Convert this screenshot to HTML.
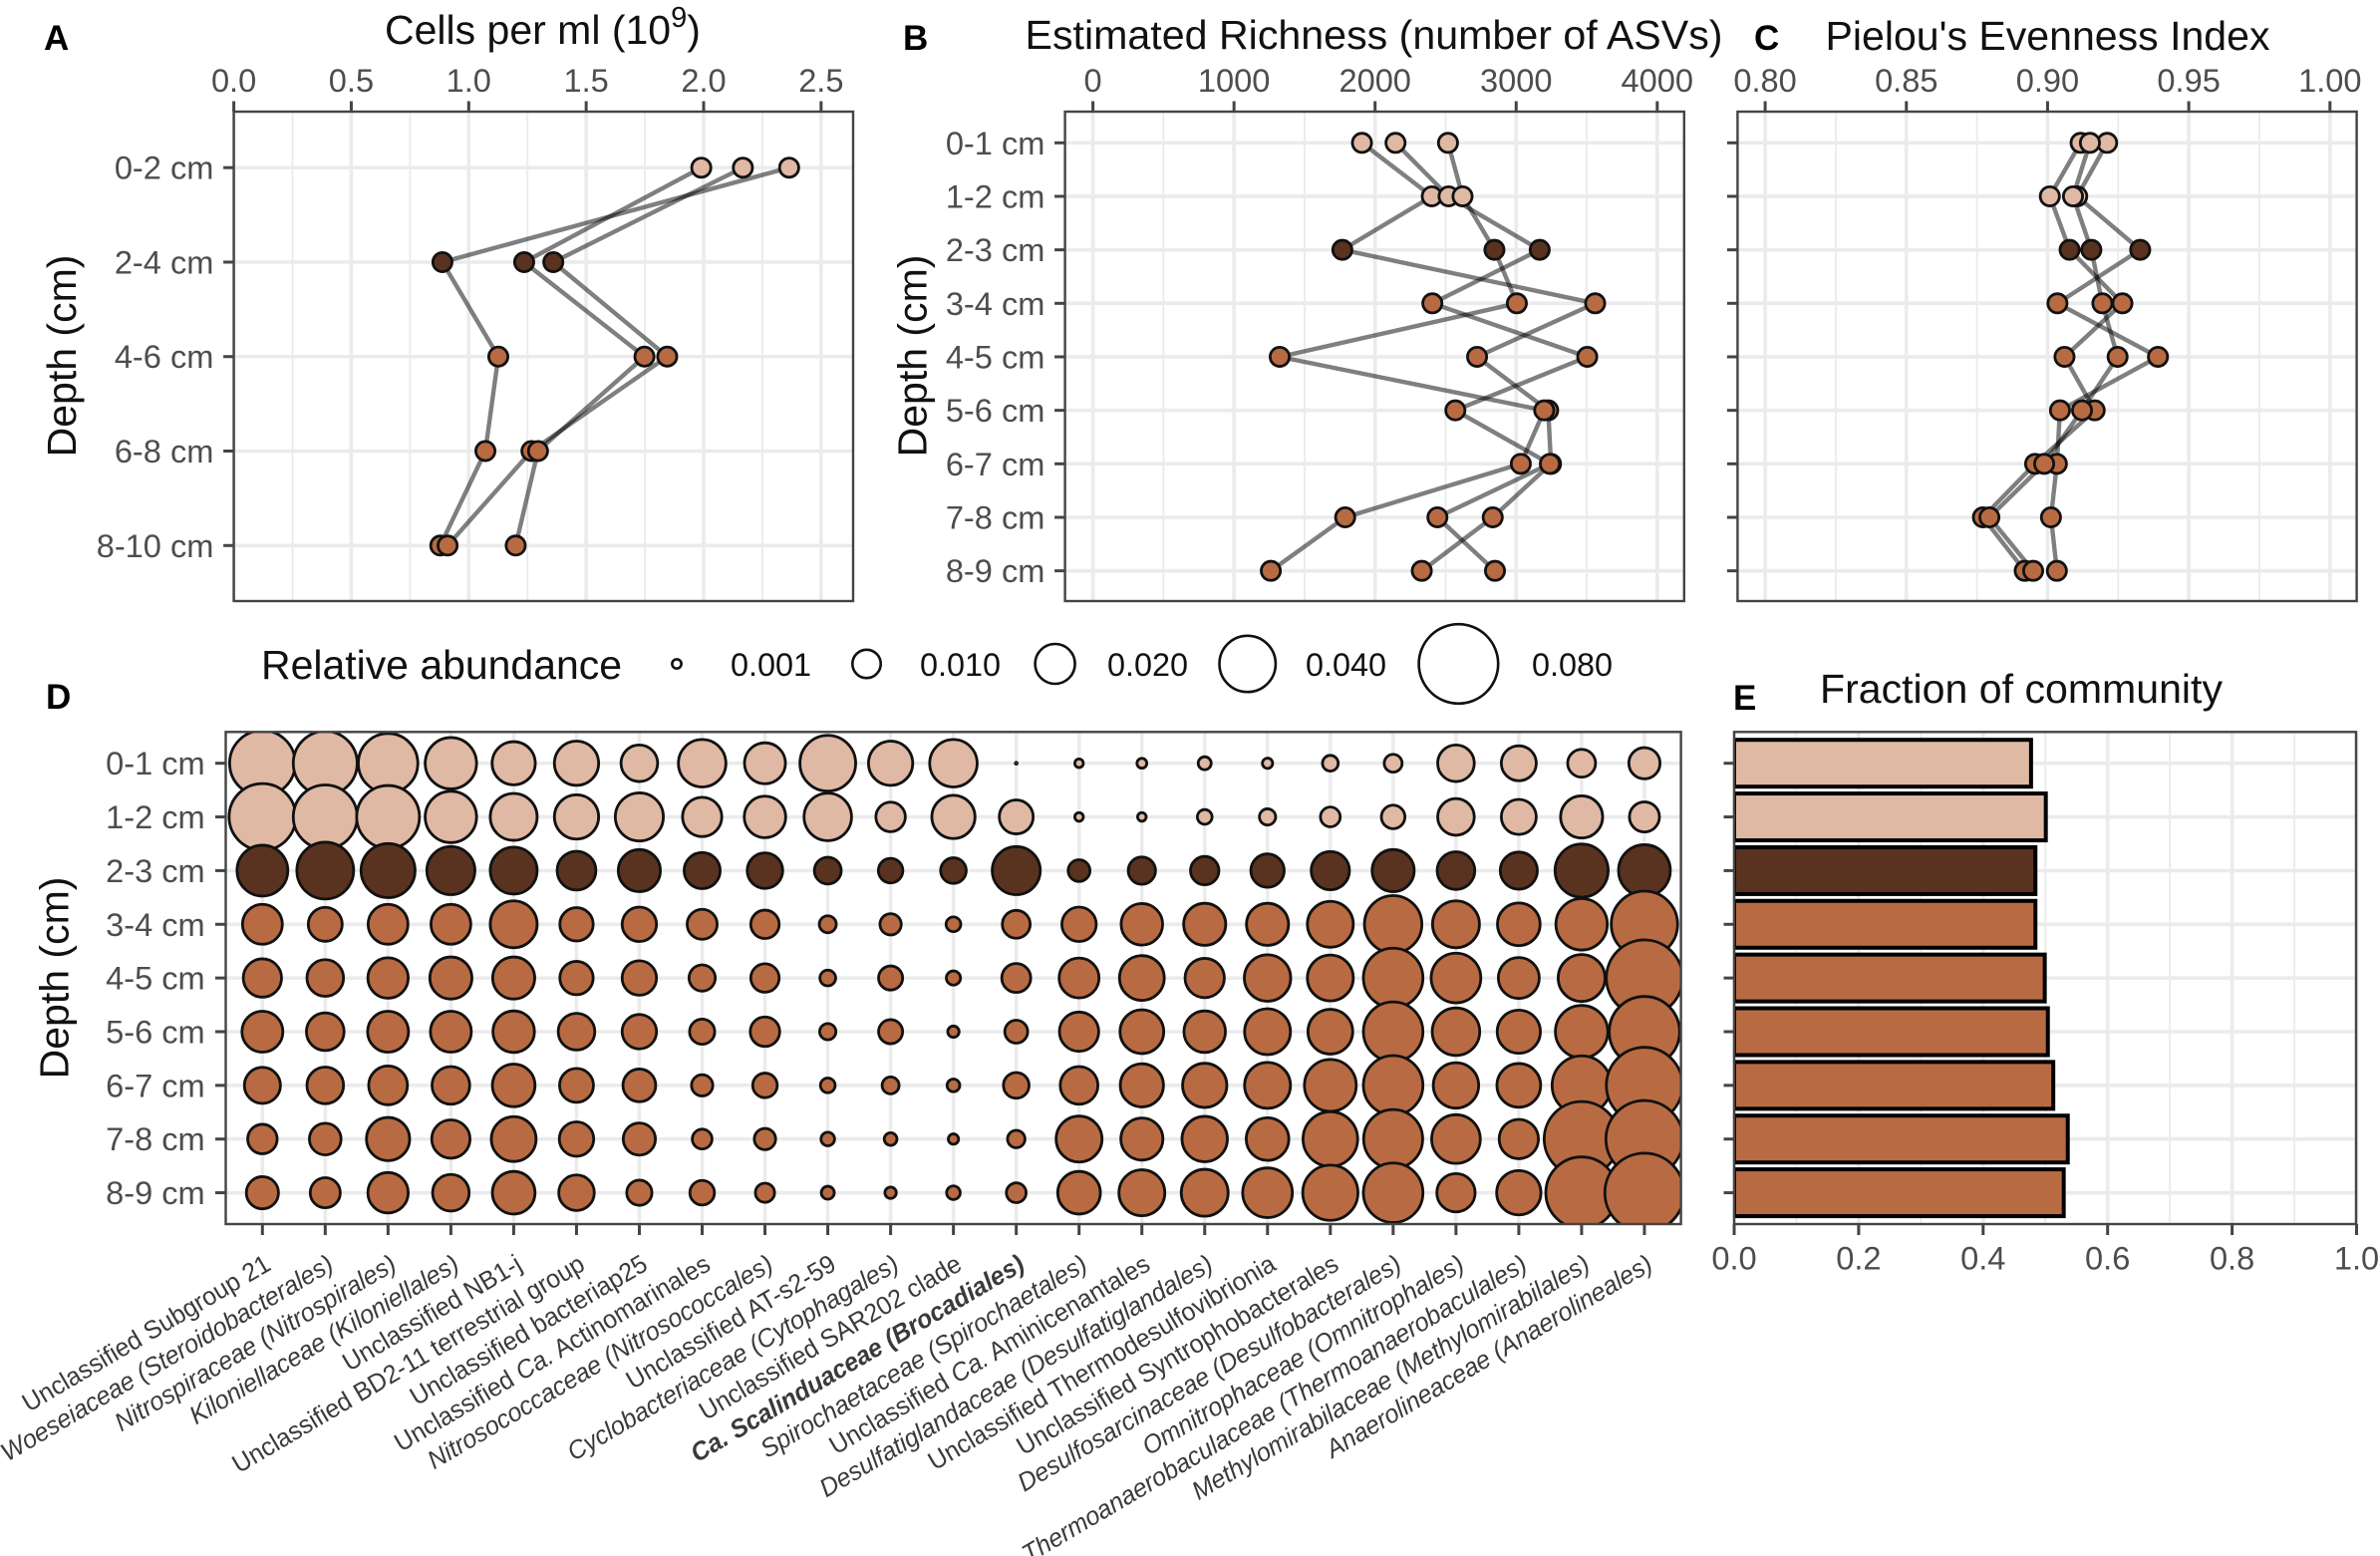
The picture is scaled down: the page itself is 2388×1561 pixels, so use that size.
<!DOCTYPE html>
<html lang="en">
<head>
<meta charset="utf-8">
<title>Depth profiles and relative abundance of sediment community</title>
<style>
html,body{margin:0;padding:0;background:#fff;}
svg{display:block;font-family:"Liberation Sans",Arial,sans-serif;}
</style>
</head>
<body>
<svg id="fig" xmlns="http://www.w3.org/2000/svg" width="2388" height="1561" viewBox="0 0 2388 1561">
<defs>
<clipPath id="clip-d"><rect x="226.5" y="734.3" width="1460.1" height="493.7"/></clipPath>
<clipPath id="clip-e"><rect x="1740" y="734.3" width="624" height="493.7"/></clipPath>
</defs>
<rect width="2388" height="1561" fill="#fff"/>
<g id="layer-a"></g>
<g id="layer-b"></g>
<g id="layer-c"></g>
<g id="layer-legend"></g>
<g id="layer-d"></g>
<g id="layer-e"></g>

<g font-size="35" font-weight="bold" fill="#000">
<text x="44" y="50">A</text>
<text x="906" y="50">B</text>
<text x="1760" y="50">C</text>
<text x="46" y="711">D</text>
<text x="1739" y="712">E</text>
</g>
<g font-size="41" fill="#111">
<text x="386" y="44">Cells per ml (10<tspan font-size="29" dy="-17">9</tspan><tspan dy="17">)</tspan></text>
<text x="1028.5" y="49" textLength="700" lengthAdjust="spacingAndGlyphs">Estimated Richness (number of ASVs)</text>
<text x="1831.5" y="50" textLength="446" lengthAdjust="spacingAndGlyphs">Pielou's Evenness Index</text>
<text x="1826" y="705" textLength="404" lengthAdjust="spacingAndGlyphs">Fraction of community</text>
<text x="262" y="681" textLength="362" lengthAdjust="spacingAndGlyphs">Relative abundance</text>
<text transform="translate(76,357) rotate(-90)" text-anchor="middle">Depth (cm)</text>
<text transform="translate(929.5,357) rotate(-90)" text-anchor="middle">Depth (cm)</text>
<text transform="translate(68.5,981) rotate(-90)" text-anchor="middle">Depth (cm)</text>
</g>
</svg>
<script>
// ---------- Data ----------
const depthsFive = ["0-2 cm","2-4 cm","4-6 cm","6-8 cm","8-10 cm"];
const depthsNine = ["0-1 cm","1-2 cm","2-3 cm","3-4 cm","4-5 cm","5-6 cm","6-7 cm","7-8 cm","8-9 cm"];

const cellsRep1 = [2.364,0.888,1.126,1.071,0.879];
const cellsRep2 = [1.990,1.236,1.748,1.295,1.200];
const cellsRep3 = [2.167,1.360,1.845,1.267,0.910];
const cellsTicks = [0,0.5,1,1.5,2,2.5];
const cellsTickLabels = ["0.0","0.5","1.0","1.5","2.0","2.5"];
const cellsMinorTicks = [0.25,0.75,1.25,1.75,2.25];

const richnessRep1 = [1907,2402,1768,3560,2723,3227,3247,2834,2331];
const richnessRep2 = [2145,2521,3167,2406,3504,2569,3239,2442,2850];
const richnessRep3 = [2517,2620,2846,3005,1324,3199,3033,1788,1261];
const richnessTicks = [0,1000,2000,3000,4000];
const richnessTickLabels = ["0","1000","2000","3000","4000"];
const richnessMinorTicks = [500,1500,2500,3500];

const evennessRep1 = [0.9117,0.9008,0.9078,0.9265,0.9060,0.9167,0.8956,0.8771,0.8919];
const evennessRep2 = [0.9150,0.9090,0.9155,0.9194,0.9248,0.9122,0.8988,0.8794,0.8949];
const evennessRep3 = [0.9211,0.9105,0.9328,0.9035,0.9391,0.9044,0.9033,0.9012,0.9033];
const evennessTicks = [0.80,0.85,0.90,0.95,1.00];
const evennessTickLabels = ["0.80","0.85","0.90","0.95","1.00"];
const evennessMinorTicks = [0.825,0.875,0.925,0.975];

const legendValues = [0.001,0.01,0.02,0.04,0.08];
const legendLabels = ["0.001","0.010","0.020","0.040","0.080"];

// label parts: [text, style] where style n=normal, i=italic, b=bold italic
const taxa = [
  [["Unclassified Subgroup 21","n"]],
  [["Woeseiaceae (Steroidobacterales)","i"]],
  [["Nitrospiraceae (Nitrospirales)","i"]],
  [["Kiloniellaceae (Kiloniellales)","i"]],
  [["Unclassified NB1-j","n"]],
  [["Unclassified BD2-11 terrestrial group","n"]],
  [["Unclassified bacteriap25","n"]],
  [["Unclassified ","n"],["Ca.","i"],[" Actinomarinales","n"]],
  [["Nitrosococcaceae (Nitrosococcales)","i"]],
  [["Unclassified AT-s2-59","n"]],
  [["Cyclobacteriaceae (Cytophagales)","i"]],
  [["Unclassified SAR202 clade","n"]],
  [["Ca. Scalinduaceae (Brocadiales)","b"]],
  [["Spirochaetaceae (Spirochaetales)","i"]],
  [["Unclassified ","n"],["Ca.","i"],[" Aminicenantales","n"]],
  [["Desulfatiglandaceae (Desulfatiglandales)","i"]],
  [["Unclassified Thermodesulfovibrionia","n"]],
  [["Unclassified Syntrophobacterales","n"]],
  [["Desulfosarcinaceae (Desulfobacterales)","i"]],
  [["Omnitrophaceae (Omnitrophales)","i"]],
  [["Thermoanaerobaculaceae (Thermoanaerobaculales)","i"]],
  [["Methylomirabilaceae (Methylomirabilales)","i"]],
  [["Anaerolineaceae (Anaerolineales)","i"]]
];

// relative abundance: one row per taxon, one value per depth
const abundanceByTaxon = [
  [.0549,.0567,.0329,.0202,.0186,.0213,.0165,.0110,.0131],
  [.0521,.0521,.0411,.0146,.0170,.0180,.0170,.0127,.0114],
  [.0452,.0503,.0372,.0202,.0207,.0213,.0191,.0237,.0207],
  [.0336,.0336,.0294,.0202,.0225,.0213,.0180,.0186,.0170],
  [.0237,.0280,.0280,.0280,.0225,.0219,.0231,.0255,.0231],
  [.0249,.0249,.0191,.0141,.0141,.0170,.0146,.0150,.0160],
  [.0170,.0294,.0225,.0150,.0150,.0150,.0136,.0131,.0080],
  [.0287,.0196,.0165,.0114,.0087,.0080,.0057,.0049,.0076],
  [.0213,.0219,.0160,.0102,.0102,.0110,.0076,.0057,.0046],
  [.0396,.0287,.0091,.0036,.0031,.0033,.0027,.0023,.0021],
  [.0249,.0110,.0076,.0057,.0073,.0073,.0036,.0020,.0016],
  [.0287,.0237,.0083,.0027,.0025,.0016,.0020,.0013,.0023],
  [.00002,.0146,.0294,.0098,.0106,.0066,.0083,.0038,.0049],
  [.0009,.0009,.0060,.0150,.0202,.0196,.0180,.0268,.0231],
  [.0012,.0009,.0094,.0219,.0255,.0243,.0237,.0225,.0268],
  [.0021,.0027,.0102,.0225,.0196,.0219,.0249,.0262,.0280],
  [.0013,.0033,.0141,.0225,.0274,.0268,.0268,.0231,.0314],
  [.0031,.0049,.0186,.0268,.0268,.0255,.0342,.0380,.0388],
  [.0040,.0070,.0225,.0420,.0452,.0452,.0452,.0444,.0452],
  [.0170,.0170,.0180,.0280,.0314,.0287,.0262,.0301,.0186],
  [.0155,.0155,.0175,.0231,.0213,.0237,.0243,.0196,.0249],
  [.0098,.0225,.0360,.0336,.0280,.0350,.0444,.0716,.0654],
  [.0123,.0114,.0342,.0562,.0740,.0633,.0740,.0758,.0800]
];

const communityFraction = [0.477,0.5007,0.484,0.484,0.499,0.504,0.5127,0.536,0.5295];
const fractionTicks = [0,0.2,0.4,0.6,0.8,1];
const fractionTickLabels = ["0.0","0.2","0.4","0.6","0.8","1.0"];
const fractionMinorTicks = [0.1,0.3,0.5,0.7,0.9];

// ---------- Helpers ----------
const NS = "http://www.w3.org/2000/svg";
const LIGHT = "#dfb9a4", DARK = "#59331f", MID = "#b86b42";
const GRID = "#ebebeb", BORDER = "#444444", TICKC = "#444444", LABELC = "#4d4d4d";
const colorsFive = [LIGHT,DARK,MID,MID,MID];
const colorsNine = [LIGHT,LIGHT,DARK,MID,MID,MID,MID,MID,MID];

function mk(parent, tag, attrs, txt){
  const e = document.createElementNS(NS, tag);
  for (const k in attrs) e.setAttribute(k, attrs[k]);
  if (txt !== undefined) e.textContent = txt;
  parent.appendChild(e);
  return e;
}

function drawFrame(g, b, key){
  const r = mk(g,"rect",{x:b.l,y:b.t,width:b.r-b.l,height:b.b-b.t,fill:"none",stroke:BORDER,"stroke-width":2.4});
  
  
}

function drawVGrid(g, b, key, xf, majors, minors){
  minors.forEach(function(v){
    const l = mk(g,"line",{x1:xf(v),x2:xf(v),y1:b.t,y2:b.b,stroke:GRID,"stroke-width":1.8});
    
    
  });
  majors.forEach(function(v){
    const l = mk(g,"line",{x1:xf(v),x2:xf(v),y1:b.t,y2:b.b,stroke:GRID,"stroke-width":3.6});
    
    
  });
}

function drawHGrid(g, b, key, yf, n){
  for (let i = 0; i < n; i++){
    const l = mk(g,"line",{x1:b.l,x2:b.r,y1:yf(i),y2:yf(i),stroke:GRID,"stroke-width":3.6});
    
    
  }
}

function drawYTicks(g, b, key, yf, labels, showLabels, labelRight){
  labels.forEach(function(lab,i){
    const t = mk(g,"line",{x1:b.l-10.5,x2:b.l,y1:yf(i),y2:yf(i),stroke:TICKC,"stroke-width":3});
    
    
    if (showLabels){
      const x = mk(g,"text",{x:labelRight,y:yf(i)+11.5,"text-anchor":"end","font-size":32.6,fill:LABELC},lab);
      
      
    }
  });
}

function drawTopAxis(g, b, key, xf, ticks, labels){
  ticks.forEach(function(v,i){
    const t = mk(g,"line",{x1:xf(v),x2:xf(v),y1:b.t-10.5,y2:b.t,stroke:TICKC,"stroke-width":3});
    
    
    const x = mk(g,"text",{x:xf(v),y:92,"text-anchor":"middle","font-size":32.6,fill:LABELC},labels[i]);
    
    
  });
}

function drawProfile(g, key, xf, yf, reps, colors){
  reps.forEach(function(vals){
    const pts = vals.map(function(v,i){ return xf(v).toFixed(1)+","+yf(i).toFixed(1); }).join(" ");
    const pl = mk(g,"polyline",{points:pts,fill:"none",stroke:"#000","stroke-opacity":0.5,"stroke-width":4.4,"stroke-linejoin":"round"});
    
    
  });
  reps.forEach(function(vals){
    vals.forEach(function(v,i){
      const c = mk(g,"circle",{cx:xf(v),cy:yf(i),r:9.6,fill:colors[i],stroke:"#111","stroke-width":2.8});
      
      
    });
  });
}

function sizeRadius(v){ return 1.5 + 140*Math.sqrt(v); }

// ---------- Panel A ----------
(function(){
  const g = document.getElementById("layer-a");
  const b = {l:234.6,r:856,t:112,b:603};
  const xf = function(v){ return 234.6 + 235.7*v; };
  const yf = function(i){ return 168.2 + 94.77*i; };
  drawVGrid(g,b,"panel-a",xf,cellsTicks,cellsMinorTicks);
  drawHGrid(g,b,"panel-a",yf,depthsFive.length);
  drawProfile(g,"panel-a",xf,yf,[cellsRep1,cellsRep3,cellsRep2],colorsFive);
  drawFrame(g,b,"panel-a");
  drawYTicks(g,b,"panel-a",yf,depthsFive,true,214.4);
  drawTopAxis(g,b,"panel-a",xf,cellsTicks,cellsTickLabels);
})();

// ---------- Panel B ----------
(function(){
  const g = document.getElementById("layer-b");
  const b = {l:1068.6,r:1689.8,t:112,b:603};
  const xf = function(v){ return 1096.6 + 0.14155*v; };
  const yf = function(i){ return 143.3 + 53.67*i; };
  drawVGrid(g,b,"panel-b",xf,richnessTicks,richnessMinorTicks);
  drawHGrid(g,b,"panel-b",yf,depthsNine.length);
  drawProfile(g,"panel-b",xf,yf,[richnessRep1,richnessRep2,richnessRep3],colorsNine);
  drawFrame(g,b,"panel-b");
  drawYTicks(g,b,"panel-b",yf,depthsNine,true,1048.4);
  drawTopAxis(g,b,"panel-b",xf,richnessTicks,richnessTickLabels);
})();

// ---------- Panel C ----------
(function(){
  const g = document.getElementById("layer-c");
  const b = {l:1743.4,r:2364.6,t:112,b:603};
  const xf = function(v){ return 1771.1 + 2833.5*(v-0.8); };
  const yf = function(i){ return 143.3 + 53.67*i; };
  drawVGrid(g,b,"panel-c",xf,evennessTicks,evennessMinorTicks);
  drawHGrid(g,b,"panel-c",yf,depthsNine.length);
  drawProfile(g,"panel-c",xf,yf,[evennessRep3,evennessRep1,evennessRep2],colorsNine);
  drawFrame(g,b,"panel-c");
  drawYTicks(g,b,"panel-c",yf,depthsNine,false,0);
  drawTopAxis(g,b,"panel-c",xf,evennessTicks,evennessTickLabels);
})();

// ---------- Legend ----------
(function(){
  const g = document.getElementById("layer-legend");
  const layoutX = [679,869.5,1058.6,1251.7,1463.4];
  const layoutLabelX = [733,923,1111,1310,1537];
  legendValues.forEach(function(v,i){
    const c = mk(g,"circle",{cx:layoutX[i],cy:666,r:sizeRadius(v)-1.3,fill:"#fff",stroke:"#111","stroke-width":2.6});
    
    
    const t = mk(g,"text",{x:layoutLabelX[i],y:678,"font-size":32.4,fill:"#111"},legendLabels[i]);
    
    
  });
})();

// ---------- Panel D ----------
(function(){
  const g = document.getElementById("layer-d");
  const b = {l:226.5,r:1686.6,t:734.3,b:1228};
  const xf = function(i){ return 263.3 + 63.03*i; };
  const yf = function(i){ return 765.7 + 53.86*i; };
  taxa.forEach(function(_,i){
    const l = mk(g,"line",{x1:xf(i),x2:xf(i),y1:b.t,y2:b.b,stroke:GRID,"stroke-width":3.6});
    
    
  });
  drawHGrid(g,b,"panel-d",yf,depthsNine.length);
  const clip = mk(g,"g",{"clip-path":"url(#clip-d)"});
  
  
  abundanceByTaxon.forEach(function(vals,ti){
    vals.forEach(function(v,di){
      const c = mk(clip,"circle",{cx:xf(ti),cy:yf(di),r:Math.max(sizeRadius(v)-1.4,0.9),fill:colorsNine[di],stroke:"#111","stroke-width":2.8});
      
      
    });
  });
  drawFrame(g,b,"panel-d");
  drawYTicks(g,b,"panel-d",yf,depthsNine,true,205.7);
  taxa.forEach(function(parts,i){
    const t = mk(g,"line",{x1:xf(i),x2:xf(i),y1:b.b,y2:b.b+11,stroke:TICKC,"stroke-width":3});
    
    
    const ex = xf(i)+10, ey = 1273;
    const tx = mk(g,"text",{transform:"translate("+ex+" "+ey+") rotate(-30.5) scale(0.965 1)",x:0,y:0,"text-anchor":"end","font-size":25.8,fill:"#3a3a3a"});
    
    
    parts.forEach(function(p){
      const s = mk(tx,"tspan",{},p[0]);
      
      
      if (p[1] !== "n") s.setAttribute("font-style","italic");
      if (p[1] === "b") s.setAttribute("font-weight","bold");
    });
  });
})();

// ---------- Panel E ----------
(function(){
  const g = document.getElementById("layer-e");
  const b = {l:1740,r:2364,t:734.3,b:1228};
  const xf = function(v){ return 1740 + 624.5*v; };
  const yf = function(i){ return 765.7 + 53.86*i; };
  drawVGrid(g,b,"panel-e",xf,fractionTicks,fractionMinorTicks);
  drawHGrid(g,b,"panel-e",yf,depthsNine.length);
  const clip = mk(g,"g",{"clip-path":"url(#clip-e)"});
  
  
  communityFraction.forEach(function(v,i){
    const r = mk(clip,"rect",{x:xf(0),y:yf(i)-23.5,width:xf(v)-xf(0),height:47,fill:colorsNine[i],stroke:"#000","stroke-width":4});
    
    
  });
  drawFrame(g,b,"panel-e");
  drawYTicks(g,b,"panel-e",yf,depthsNine,false,0);
  fractionTicks.forEach(function(v,i){
    const t = mk(g,"line",{x1:xf(v),x2:xf(v),y1:b.b,y2:b.b+11,stroke:TICKC,"stroke-width":3});
    
    
    const x = mk(g,"text",{x:xf(v),y:1273.5,"text-anchor":"middle","font-size":32.6,fill:LABELC},fractionTickLabels[i]);
    
    
  });
})();
</script>
</body>
</html>
